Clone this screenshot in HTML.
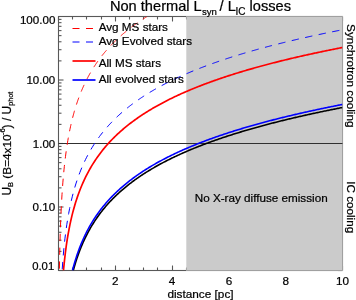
<!DOCTYPE html>
<html><head><meta charset="utf-8"><style>html,body{margin:0;padding:0;background:#fff;width:356px;height:300px;overflow:hidden}svg{display:block;will-change:transform}</style></head>
<body><svg width="356" height="300" viewBox="0 0 356 300">
<rect width="356" height="300" fill="#fff"/>
<g stroke="#585858" stroke-width="1.1" fill="none">
<rect x="58.5" y="16.5" width="284.0" height="254.0"/>
<line x1="58.5" y1="270.5" x2="58.5" y2="265.5"/><line x1="58.5" y1="16.5" x2="58.5" y2="21.5"/><line x1="72.5" y1="270.5" x2="72.5" y2="267.5"/><line x1="72.5" y1="16.5" x2="72.5" y2="19.5"/><line x1="86.5" y1="270.5" x2="86.5" y2="267.5"/><line x1="86.5" y1="16.5" x2="86.5" y2="19.5"/><line x1="101.5" y1="270.5" x2="101.5" y2="267.5"/><line x1="101.5" y1="16.5" x2="101.5" y2="19.5"/><line x1="115.5" y1="270.5" x2="115.5" y2="265.5"/><line x1="115.5" y1="16.5" x2="115.5" y2="21.5"/><line x1="129.5" y1="270.5" x2="129.5" y2="267.5"/><line x1="129.5" y1="16.5" x2="129.5" y2="19.5"/><line x1="143.5" y1="270.5" x2="143.5" y2="267.5"/><line x1="143.5" y1="16.5" x2="143.5" y2="19.5"/><line x1="157.5" y1="270.5" x2="157.5" y2="267.5"/><line x1="157.5" y1="16.5" x2="157.5" y2="19.5"/><line x1="172.5" y1="270.5" x2="172.5" y2="265.5"/><line x1="172.5" y1="16.5" x2="172.5" y2="21.5"/><line x1="186.5" y1="270.5" x2="186.5" y2="267.5"/><line x1="186.5" y1="16.5" x2="186.5" y2="19.5"/><line x1="200.5" y1="270.5" x2="200.5" y2="267.5"/><line x1="200.5" y1="16.5" x2="200.5" y2="19.5"/><line x1="214.5" y1="270.5" x2="214.5" y2="267.5"/><line x1="214.5" y1="16.5" x2="214.5" y2="19.5"/><line x1="228.5" y1="270.5" x2="228.5" y2="265.5"/><line x1="228.5" y1="16.5" x2="228.5" y2="21.5"/><line x1="243.5" y1="270.5" x2="243.5" y2="267.5"/><line x1="243.5" y1="16.5" x2="243.5" y2="19.5"/><line x1="257.5" y1="270.5" x2="257.5" y2="267.5"/><line x1="257.5" y1="16.5" x2="257.5" y2="19.5"/><line x1="271.5" y1="270.5" x2="271.5" y2="267.5"/><line x1="271.5" y1="16.5" x2="271.5" y2="19.5"/><line x1="285.5" y1="270.5" x2="285.5" y2="265.5"/><line x1="285.5" y1="16.5" x2="285.5" y2="21.5"/><line x1="299.5" y1="270.5" x2="299.5" y2="267.5"/><line x1="299.5" y1="16.5" x2="299.5" y2="19.5"/><line x1="314.5" y1="270.5" x2="314.5" y2="267.5"/><line x1="314.5" y1="16.5" x2="314.5" y2="19.5"/><line x1="328.5" y1="270.5" x2="328.5" y2="267.5"/><line x1="328.5" y1="16.5" x2="328.5" y2="19.5"/><line x1="342.5" y1="270.5" x2="342.5" y2="265.5"/><line x1="342.5" y1="16.5" x2="342.5" y2="21.5"/><line x1="58.5" y1="270.50" x2="63.5" y2="270.50"/><line x1="342.5" y1="270.50" x2="337.5" y2="270.50"/><line x1="58.5" y1="251.38" x2="61.5" y2="251.38"/><line x1="342.5" y1="251.38" x2="339.5" y2="251.38"/><line x1="58.5" y1="240.20" x2="61.5" y2="240.20"/><line x1="342.5" y1="240.20" x2="339.5" y2="240.20"/><line x1="58.5" y1="232.27" x2="61.5" y2="232.27"/><line x1="342.5" y1="232.27" x2="339.5" y2="232.27"/><line x1="58.5" y1="226.12" x2="61.5" y2="226.12"/><line x1="342.5" y1="226.12" x2="339.5" y2="226.12"/><line x1="58.5" y1="221.09" x2="61.5" y2="221.09"/><line x1="342.5" y1="221.09" x2="339.5" y2="221.09"/><line x1="58.5" y1="216.84" x2="61.5" y2="216.84"/><line x1="342.5" y1="216.84" x2="339.5" y2="216.84"/><line x1="58.5" y1="213.15" x2="61.5" y2="213.15"/><line x1="342.5" y1="213.15" x2="339.5" y2="213.15"/><line x1="58.5" y1="209.91" x2="61.5" y2="209.91"/><line x1="342.5" y1="209.91" x2="339.5" y2="209.91"/><line x1="58.5" y1="207.00" x2="63.5" y2="207.00"/><line x1="342.5" y1="207.00" x2="337.5" y2="207.00"/><line x1="58.5" y1="187.88" x2="61.5" y2="187.88"/><line x1="342.5" y1="187.88" x2="339.5" y2="187.88"/><line x1="58.5" y1="176.70" x2="61.5" y2="176.70"/><line x1="342.5" y1="176.70" x2="339.5" y2="176.70"/><line x1="58.5" y1="168.77" x2="61.5" y2="168.77"/><line x1="342.5" y1="168.77" x2="339.5" y2="168.77"/><line x1="58.5" y1="162.62" x2="61.5" y2="162.62"/><line x1="342.5" y1="162.62" x2="339.5" y2="162.62"/><line x1="58.5" y1="157.59" x2="61.5" y2="157.59"/><line x1="342.5" y1="157.59" x2="339.5" y2="157.59"/><line x1="58.5" y1="153.34" x2="61.5" y2="153.34"/><line x1="342.5" y1="153.34" x2="339.5" y2="153.34"/><line x1="58.5" y1="149.65" x2="61.5" y2="149.65"/><line x1="342.5" y1="149.65" x2="339.5" y2="149.65"/><line x1="58.5" y1="146.41" x2="61.5" y2="146.41"/><line x1="342.5" y1="146.41" x2="339.5" y2="146.41"/><line x1="58.5" y1="143.50" x2="63.5" y2="143.50"/><line x1="342.5" y1="143.50" x2="337.5" y2="143.50"/><line x1="58.5" y1="124.38" x2="61.5" y2="124.38"/><line x1="342.5" y1="124.38" x2="339.5" y2="124.38"/><line x1="58.5" y1="113.20" x2="61.5" y2="113.20"/><line x1="342.5" y1="113.20" x2="339.5" y2="113.20"/><line x1="58.5" y1="105.27" x2="61.5" y2="105.27"/><line x1="342.5" y1="105.27" x2="339.5" y2="105.27"/><line x1="58.5" y1="99.12" x2="61.5" y2="99.12"/><line x1="342.5" y1="99.12" x2="339.5" y2="99.12"/><line x1="58.5" y1="94.09" x2="61.5" y2="94.09"/><line x1="342.5" y1="94.09" x2="339.5" y2="94.09"/><line x1="58.5" y1="89.84" x2="61.5" y2="89.84"/><line x1="342.5" y1="89.84" x2="339.5" y2="89.84"/><line x1="58.5" y1="86.15" x2="61.5" y2="86.15"/><line x1="342.5" y1="86.15" x2="339.5" y2="86.15"/><line x1="58.5" y1="82.91" x2="61.5" y2="82.91"/><line x1="342.5" y1="82.91" x2="339.5" y2="82.91"/><line x1="58.5" y1="80.00" x2="63.5" y2="80.00"/><line x1="342.5" y1="80.00" x2="337.5" y2="80.00"/><line x1="58.5" y1="60.88" x2="61.5" y2="60.88"/><line x1="342.5" y1="60.88" x2="339.5" y2="60.88"/><line x1="58.5" y1="49.70" x2="61.5" y2="49.70"/><line x1="342.5" y1="49.70" x2="339.5" y2="49.70"/><line x1="58.5" y1="41.77" x2="61.5" y2="41.77"/><line x1="342.5" y1="41.77" x2="339.5" y2="41.77"/><line x1="58.5" y1="35.62" x2="61.5" y2="35.62"/><line x1="342.5" y1="35.62" x2="339.5" y2="35.62"/><line x1="58.5" y1="30.59" x2="61.5" y2="30.59"/><line x1="342.5" y1="30.59" x2="339.5" y2="30.59"/><line x1="58.5" y1="26.34" x2="61.5" y2="26.34"/><line x1="342.5" y1="26.34" x2="339.5" y2="26.34"/><line x1="58.5" y1="22.65" x2="61.5" y2="22.65"/><line x1="342.5" y1="22.65" x2="339.5" y2="22.65"/><line x1="58.5" y1="19.41" x2="61.5" y2="19.41"/><line x1="342.5" y1="19.41" x2="339.5" y2="19.41"/>
</g>
<rect x="186.30" y="16.0" width="156.70" height="255.0" fill="#cbcbcb"/>
<path d="M186.30,16.5H342.5V270.5H186.30" fill="none" stroke="#a0a0a0" stroke-width="1"/>
<line x1="58.5" y1="143.5" x2="342.5" y2="143.5" stroke="#303030" stroke-width="1"/>
<defs><clipPath id="c"><rect x="58.5" y="16.5" width="284.0" height="254.0"/></clipPath></defs>
<g clip-path="url(#c)">
<path d="M59.38,270.50 L59.68,254.77 L59.97,242.55 L60.26,232.55 L60.55,224.08 L60.85,216.75 L61.14,210.27 L61.43,204.48 L61.72,199.24 L62.01,194.45 L62.31,190.05 L62.60,185.97 L62.89,182.17 L63.18,178.62 L63.47,175.28 L63.77,172.14 L64.06,169.16 L64.35,166.33 L64.64,163.65 L64.93,161.09 L65.23,158.64 L65.52,156.29 L65.81,154.04 L66.10,151.88 L66.39,149.80 L66.69,147.80 L66.98,145.87 L67.27,144.00 L67.56,142.19 L67.85,140.44 L68.15,138.75 L68.44,137.10 L68.73,135.50 L69.02,133.95 L69.31,132.44 L69.61,130.97 L69.90,129.54 L70.19,128.15 L70.48,126.78 L70.77,125.46 L71.07,124.16 L71.36,122.89 L71.65,121.65 L71.94,120.44 L72.23,119.26 L72.53,118.10 L72.82,116.96 L73.11,115.85 L73.40,114.75 L73.69,113.68 L73.99,112.63 L74.28,111.60 L74.57,110.59 L74.86,109.60 L75.15,108.62 L75.45,107.66 L75.74,106.72 L76.03,105.80 L76.32,104.88 L76.61,103.99 L76.91,103.11 L77.20,102.24 L77.49,101.38 L77.78,100.54 L78.07,99.71 L78.37,98.90 L78.66,98.09 L78.95,97.30 L79.24,96.52 L79.53,95.74 L79.83,94.98 L80.12,94.23 L80.41,93.49 L80.70,92.76 L80.99,92.04 L81.29,91.33 L81.58,90.63 L81.87,89.94 L82.16,89.25 L82.45,88.57 L82.75,87.91 L83.04,87.25 L83.33,86.59 L83.62,85.95 L83.91,85.31 L84.21,84.68 L84.50,84.06 L84.79,83.44 L85.08,82.83 L85.37,82.23 L85.67,81.63 L85.96,81.04 L86.25,80.46 L86.54,79.88 L86.83,79.31 L87.13,78.75 L87.42,78.19 L87.71,77.63 L88.00,77.08 L88.29,76.54 L88.59,76.00 L88.88,75.47 L89.17,74.94 L89.46,74.42 L89.76,73.90 L90.05,73.39 L90.34,72.88 L90.63,72.38 L90.92,71.88 L91.22,71.38 L91.51,70.89 L91.80,70.41 L92.09,69.93 L92.38,69.45 L92.68,68.97 L92.97,68.51 L93.26,68.04 L93.55,67.58 L93.84,67.12 L94.14,66.67 L94.43,66.22 L94.72,65.77 L95.01,65.33 L95.30,64.89 L95.60,64.45 L95.89,64.02 L96.18,63.59 L96.47,63.17 L96.76,62.74 L97.06,62.32 L97.35,61.91 L97.64,61.49 L97.93,61.08 L98.22,60.68 L98.52,60.27 L98.81,59.87 L99.10,59.47 L99.39,59.08 L99.68,58.69 L99.98,58.30 L100.27,57.91 L100.56,57.53 L100.85,57.14 L101.14,56.76 L101.44,56.39 L101.73,56.01 L102.02,55.64 L102.31,55.27 L102.60,54.91 L102.90,54.54 L103.19,54.18 L103.48,53.82 L103.77,53.47 L104.06,53.11 L104.36,52.76 L104.65,52.41 L104.94,52.06 L105.23,51.72 L105.52,51.37 L105.82,51.03 L106.11,50.69 L106.40,50.35 L106.69,50.02 L106.98,49.68 L107.28,49.35 L107.57,49.02 L107.86,48.70 L108.15,48.37 L108.44,48.05 L108.74,47.73 L109.03,47.41 L109.32,47.09 L109.61,46.77 L109.90,46.46 L110.20,46.15 L110.49,45.84 L110.78,45.53 L111.07,45.22 L111.36,44.91 L111.66,44.61 L111.95,44.31 L112.24,44.01 L112.53,43.71 L112.82,43.41 L113.12,43.12 L113.41,42.82 L113.70,42.53 L113.99,42.24 L114.28,41.95 L114.58,41.66 L114.87,41.37 L115.16,41.09 L115.45,40.81 L115.74,40.52 L116.04,40.24 L116.33,39.96 L116.62,39.69 L116.91,39.41 L117.21,39.13 L117.50,38.86 L117.79,38.59 L118.08,38.32 L118.37,38.05 L118.67,37.78 L118.96,37.51 L119.25,37.25 L119.54,36.98 L119.83,36.72 L120.13,36.46 L120.42,36.20 L120.71,35.94 L121.00,35.68 L121.29,35.42 L121.59,35.17 L121.88,34.91 L122.17,34.66 L122.46,34.40 L122.75,34.15 L123.05,33.90 L123.34,33.65 L123.63,33.41 L123.92,33.16 L124.21,32.91 L124.51,32.67 L124.80,32.43 L125.09,32.18 L125.38,31.94 L125.67,31.70 L125.97,31.46 L126.26,31.22 L126.55,30.99 L126.84,30.75 L127.13,30.52 L127.43,30.28 L127.72,30.05 L128.01,29.82 L128.30,29.59 L128.59,29.35 L128.89,29.13 L129.18,28.90 L129.47,28.67 L129.76,28.44 L130.05,28.22 L130.35,27.99 L130.64,27.77 L130.93,27.55 L131.22,27.32 L131.51,27.10 L131.81,26.88 L132.10,26.66 L132.39,26.45 L132.68,26.23 L132.97,26.01 L133.27,25.80 L133.56,25.58 L133.85,25.37 L134.14,25.15 L134.43,24.94 L134.73,24.73 L135.02,24.52 L135.31,24.31 L135.60,24.10 L135.89,23.89 L136.19,23.68 L136.48,23.48 L136.77,23.27 L137.06,23.06 L137.35,22.86 L137.65,22.66 L137.94,22.45 L138.23,22.25 L138.52,22.05 L138.81,21.85 L139.11,21.65 L139.40,21.45 L139.69,21.25 L139.98,21.05 L140.27,20.85 L140.57,20.66 L140.86,20.46 L141.15,20.27 L141.44,20.07 L141.73,19.88 L142.03,19.68 L142.32,19.49 L142.61,19.30 L142.90,19.11 L143.19,18.92 L143.49,18.73 L143.78,18.54 L144.07,18.35 L144.36,18.16 L144.65,17.98 L144.95,17.79 L145.24,17.60 L145.53,17.42 L145.82,17.23 L146.12,17.05 L146.41,16.87 L146.70,16.68 L146.99,16.50" fill="none" stroke="#ff0000" stroke-width="1.0" stroke-dasharray="7.3 6.5" stroke-dashoffset="12"/><path d="M62.11,270.50 L63.05,257.81 L63.98,247.50 L64.92,238.82 L65.85,231.32 L66.79,224.72 L67.72,218.82 L68.66,213.50 L69.59,208.64 L70.52,204.18 L71.46,200.05 L72.39,196.21 L73.33,192.62 L74.26,189.24 L75.20,186.07 L76.13,183.06 L77.07,180.21 L78.00,177.51 L78.94,174.92 L79.87,172.46 L80.81,170.10 L81.74,167.83 L82.67,165.66 L83.61,163.57 L84.54,161.55 L85.48,159.60 L86.41,157.73 L87.35,155.91 L88.28,154.15 L89.22,152.45 L90.15,150.79 L91.09,149.19 L92.02,147.63 L92.96,146.11 L93.89,144.64 L94.82,143.20 L95.76,141.80 L96.69,140.43 L97.63,139.10 L98.56,137.80 L99.50,136.52 L100.43,135.28 L101.37,134.06 L102.30,132.87 L103.24,131.71 L104.17,130.57 L105.11,129.45 L106.04,128.36 L106.97,127.28 L107.91,126.23 L108.84,125.20 L109.78,124.18 L110.71,123.19 L111.65,122.21 L112.58,121.25 L113.52,120.30 L114.45,119.37 L115.39,118.46 L116.32,117.56 L117.26,116.67 L118.19,115.80 L119.12,114.95 L120.06,114.10 L120.99,113.27 L121.93,112.45 L122.86,111.65 L123.80,110.85 L124.73,110.07 L125.67,109.29 L126.60,108.53 L127.54,107.78 L128.47,107.04 L129.41,106.31 L130.34,105.58 L131.27,104.87 L132.21,104.17 L133.14,103.47 L134.08,102.79 L135.01,102.11 L135.95,101.44 L136.88,100.78 L137.82,100.12 L138.75,99.48 L139.69,98.84 L140.62,98.21 L141.56,97.58 L142.49,96.97 L143.42,96.36 L144.36,95.75 L145.29,95.16 L146.23,94.56 L147.16,93.98 L148.10,93.40 L149.03,92.83 L149.97,92.26 L150.90,91.70 L151.84,91.15 L152.77,90.60 L153.71,90.05 L154.64,89.51 L155.58,88.98 L156.51,88.45 L157.44,87.93 L158.38,87.41 L159.31,86.90 L160.25,86.39 L161.18,85.88 L162.12,85.38 L163.05,84.89 L163.99,84.40 L164.92,83.91 L165.86,83.43 L166.79,82.95 L167.73,82.48 L168.66,82.01 L169.59,81.54 L170.53,81.08 L171.46,80.62 L172.40,80.17 L173.33,79.72 L174.27,79.27 L175.20,78.82 L176.14,78.38 L177.07,77.95 L178.01,77.52 L178.94,77.09 L179.88,76.66 L180.81,76.24 L181.74,75.82 L182.68,75.40 L183.61,74.99 L184.55,74.58 L185.48,74.17 L186.42,73.76 L187.35,73.36 L188.29,72.96 L189.22,72.57 L190.16,72.17 L191.09,71.78 L192.03,71.40 L192.96,71.01 L193.89,70.63 L194.83,70.25 L195.76,69.87 L196.70,69.50 L197.63,69.13 L198.57,68.76 L199.50,68.39 L200.44,68.03 L201.37,67.67 L202.31,67.31 L203.24,66.95 L204.18,66.59 L205.11,66.24 L206.04,65.89 L206.98,65.54 L207.91,65.20 L208.85,64.85 L209.78,64.51 L210.72,64.17 L211.65,63.83 L212.59,63.50 L213.52,63.16 L214.46,62.83 L215.39,62.50 L216.33,62.18 L217.26,61.85 L218.19,61.53 L219.13,61.20 L220.06,60.88 L221.00,60.57 L221.93,60.25 L222.87,59.93 L223.80,59.62 L224.74,59.31 L225.67,59.00 L226.61,58.69 L227.54,58.39 L228.48,58.08 L229.41,57.78 L230.35,57.48 L231.28,57.18 L232.21,56.88 L233.15,56.59 L234.08,56.29 L235.02,56.00 L235.95,55.71 L236.89,55.42 L237.82,55.13 L238.76,54.85 L239.69,54.56 L240.63,54.28 L241.56,53.99 L242.50,53.71 L243.43,53.43 L244.36,53.16 L245.30,52.88 L246.23,52.60 L247.17,52.33 L248.10,52.06 L249.04,51.79 L249.97,51.52 L250.91,51.25 L251.84,50.98 L252.78,50.71 L253.71,50.45 L254.65,50.19 L255.58,49.92 L256.51,49.66 L257.45,49.40 L258.38,49.14 L259.32,48.89 L260.25,48.63 L261.19,48.38 L262.12,48.12 L263.06,47.87 L263.99,47.62 L264.93,47.37 L265.86,47.12 L266.80,46.87 L267.73,46.62 L268.66,46.38 L269.60,46.13 L270.53,45.89 L271.47,45.65 L272.40,45.41 L273.34,45.17 L274.27,44.93 L275.21,44.69 L276.14,44.45 L277.08,44.21 L278.01,43.98 L278.95,43.74 L279.88,43.51 L280.81,43.28 L281.75,43.05 L282.68,42.82 L283.62,42.59 L284.55,42.36 L285.49,42.13 L286.42,41.90 L287.36,41.68 L288.29,41.45 L289.23,41.23 L290.16,41.01 L291.10,40.79 L292.03,40.56 L292.96,40.34 L293.90,40.12 L294.83,39.91 L295.77,39.69 L296.70,39.47 L297.64,39.26 L298.57,39.04 L299.51,38.83 L300.44,38.61 L301.38,38.40 L302.31,38.19 L303.25,37.98 L304.18,37.77 L305.12,37.56 L306.05,37.35 L306.98,37.14 L307.92,36.93 L308.85,36.73 L309.79,36.52 L310.72,36.32 L311.66,36.11 L312.59,35.91 L313.53,35.71 L314.46,35.51 L315.40,35.30 L316.33,35.10 L317.27,34.90 L318.20,34.71 L319.13,34.51 L320.07,34.31 L321.00,34.11 L321.94,33.92 L322.87,33.72 L323.81,33.53 L324.74,33.33 L325.68,33.14 L326.61,32.95 L327.55,32.76 L328.48,32.56 L329.42,32.37 L330.35,32.18 L331.28,31.99 L332.22,31.81 L333.15,31.62 L334.09,31.43 L335.02,31.24 L335.96,31.06 L336.89,30.87 L337.83,30.69 L338.76,30.50 L339.70,30.32 L340.63,30.14 L341.57,29.95 L342.50,29.77" fill="none" stroke="#0000ff" stroke-width="1.0" stroke-dasharray="7.3 6.5" stroke-dashoffset="-15.1"/><path d="M63.48,270.50 L64.41,261.06 L65.34,253.00 L66.27,245.97 L67.20,239.74 L68.13,234.13 L69.06,229.05 L69.99,224.40 L70.92,220.10 L71.85,216.12 L72.78,212.41 L73.71,208.93 L74.64,205.65 L75.57,202.57 L76.50,199.64 L77.43,196.86 L78.36,194.22 L79.29,191.69 L80.22,189.28 L81.15,186.97 L82.08,184.75 L83.01,182.61 L83.94,180.56 L84.87,178.58 L85.80,176.67 L86.73,174.82 L87.66,173.03 L88.59,171.30 L89.52,169.62 L90.45,167.99 L91.38,166.41 L92.31,164.87 L93.24,163.38 L94.17,161.92 L95.10,160.50 L96.03,159.12 L96.96,157.77 L97.89,156.45 L98.82,155.16 L99.75,153.90 L100.68,152.67 L101.61,151.47 L102.54,150.29 L103.47,149.14 L104.40,148.01 L105.33,146.91 L106.26,145.82 L107.19,144.76 L108.12,143.71 L109.05,142.69 L109.98,141.68 L110.91,140.70 L111.84,139.73 L112.77,138.77 L113.70,137.84 L114.64,136.91 L115.57,136.01 L116.50,135.12 L117.43,134.24 L118.36,133.37 L119.29,132.52 L120.22,131.69 L121.15,130.86 L122.08,130.05 L123.01,129.25 L123.94,128.46 L124.87,127.68 L125.80,126.91 L126.73,126.16 L127.66,125.41 L128.59,124.67 L129.52,123.94 L130.45,123.23 L131.38,122.52 L132.31,121.82 L133.24,121.13 L134.17,120.45 L135.10,119.77 L136.03,119.11 L136.96,118.45 L137.89,117.80 L138.82,117.16 L139.75,116.52 L140.68,115.89 L141.61,115.27 L142.54,114.66 L143.47,114.05 L144.40,113.45 L145.33,112.86 L146.26,112.27 L147.19,111.69 L148.12,111.11 L149.05,110.54 L149.98,109.98 L150.91,109.42 L151.84,108.87 L152.77,108.32 L153.70,107.78 L154.63,107.25 L155.56,106.71 L156.49,106.19 L157.42,105.67 L158.35,105.15 L159.28,104.64 L160.21,104.13 L161.14,103.63 L162.07,103.13 L163.00,102.64 L163.93,102.15 L164.86,101.67 L165.79,101.19 L166.72,100.71 L167.65,100.24 L168.58,99.77 L169.51,99.31 L170.44,98.85 L171.37,98.39 L172.30,97.94 L173.23,97.49 L174.16,97.04 L175.09,96.60 L176.02,96.16 L176.95,95.73 L177.88,95.30 L178.81,94.87 L179.74,94.44 L180.67,94.02 L181.60,93.60 L182.53,93.19 L183.46,92.78 L184.39,92.37 L185.32,91.96 L186.25,91.56 L187.18,91.16 L188.11,90.76 L189.04,90.37 L189.97,89.98 L190.90,89.59 L191.83,89.20 L192.76,88.82 L193.69,88.44 L194.62,88.06 L195.55,87.68 L196.48,87.31 L197.41,86.94 L198.34,86.57 L199.27,86.21 L200.20,85.84 L201.13,85.48 L202.06,85.12 L202.99,84.77 L203.92,84.41 L204.85,84.06 L205.78,83.71 L206.71,83.36 L207.64,83.02 L208.57,82.68 L209.50,82.34 L210.43,82.00 L211.36,81.66 L212.29,81.33 L213.22,80.99 L214.15,80.66 L215.08,80.33 L216.01,80.01 L216.94,79.68 L217.87,79.36 L218.80,79.04 L219.73,78.72 L220.66,78.40 L221.59,78.09 L222.52,77.77 L223.45,77.46 L224.38,77.15 L225.31,76.84 L226.24,76.54 L227.17,76.23 L228.10,75.93 L229.03,75.63 L229.96,75.33 L230.89,75.03 L231.82,74.73 L232.75,74.44 L233.68,74.14 L234.61,73.85 L235.54,73.56 L236.47,73.27 L237.40,72.98 L238.33,72.70 L239.26,72.41 L240.19,72.13 L241.12,71.85 L242.05,71.57 L242.98,71.29 L243.91,71.01 L244.84,70.74 L245.77,70.46 L246.70,70.19 L247.63,69.92 L248.56,69.65 L249.49,69.38 L250.42,69.11 L251.35,68.84 L252.28,68.58 L253.21,68.31 L254.14,68.05 L255.07,67.79 L256.00,67.53 L256.93,67.27 L257.86,67.01 L258.79,66.75 L259.72,66.50 L260.65,66.25 L261.58,65.99 L262.51,65.74 L263.44,65.49 L264.37,65.24 L265.30,64.99 L266.23,64.74 L267.17,64.50 L268.10,64.25 L269.03,64.01 L269.96,63.76 L270.89,63.52 L271.82,63.28 L272.75,63.04 L273.68,62.80 L274.61,62.56 L275.54,62.33 L276.47,62.09 L277.40,61.86 L278.33,61.62 L279.26,61.39 L280.19,61.16 L281.12,60.93 L282.05,60.70 L282.98,60.47 L283.91,60.24 L284.84,60.01 L285.77,59.79 L286.70,59.56 L287.63,59.34 L288.56,59.11 L289.49,58.89 L290.42,58.67 L291.35,58.45 L292.28,58.23 L293.21,58.01 L294.14,57.79 L295.07,57.57 L296.00,57.36 L296.93,57.14 L297.86,56.93 L298.79,56.71 L299.72,56.50 L300.65,56.29 L301.58,56.08 L302.51,55.87 L303.44,55.66 L304.37,55.45 L305.30,55.24 L306.23,55.03 L307.16,54.83 L308.09,54.62 L309.02,54.41 L309.95,54.21 L310.88,54.01 L311.81,53.80 L312.74,53.60 L313.67,53.40 L314.60,53.20 L315.53,53.00 L316.46,52.80 L317.39,52.60 L318.32,52.40 L319.25,52.21 L320.18,52.01 L321.11,51.81 L322.04,51.62 L322.97,51.43 L323.90,51.23 L324.83,51.04 L325.76,50.85 L326.69,50.65 L327.62,50.46 L328.55,50.27 L329.48,50.08 L330.41,49.89 L331.34,49.71 L332.27,49.52 L333.20,49.33 L334.13,49.15 L335.06,48.96 L335.99,48.77 L336.92,48.59 L337.85,48.41 L338.78,48.22 L339.71,48.04 L340.64,47.86 L341.57,47.68 L342.50,47.50" fill="none" stroke="#ff0000" stroke-width="1.7"/><path d="M73.28,270.50 L74.18,267.25 L75.08,264.18 L75.98,261.27 L76.87,258.51 L77.77,255.88 L78.67,253.37 L79.57,250.97 L80.46,248.67 L81.36,246.46 L82.26,244.34 L83.16,242.29 L84.05,240.32 L84.95,238.42 L85.85,236.58 L86.75,234.80 L87.64,233.07 L88.54,231.40 L89.44,229.77 L90.33,228.20 L91.23,226.66 L92.13,225.17 L93.03,223.72 L93.92,222.30 L94.82,220.92 L95.72,219.58 L96.62,218.26 L97.51,216.98 L98.41,215.73 L99.31,214.50 L100.21,213.30 L101.10,212.13 L102.00,210.98 L102.90,209.85 L103.80,208.75 L104.69,207.66 L105.59,206.60 L106.49,205.56 L107.39,204.54 L108.28,203.54 L109.18,202.55 L110.08,201.58 L110.97,200.63 L111.87,199.70 L112.77,198.78 L113.67,197.87 L114.56,196.98 L115.46,196.11 L116.36,195.24 L117.26,194.40 L118.15,193.56 L119.05,192.74 L119.95,191.92 L120.85,191.12 L121.74,190.34 L122.64,189.56 L123.54,188.79 L124.44,188.04 L125.33,187.29 L126.23,186.56 L127.13,185.83 L128.02,185.11 L128.92,184.41 L129.82,183.71 L130.72,183.02 L131.61,182.34 L132.51,181.66 L133.41,181.00 L134.31,180.34 L135.20,179.69 L136.10,179.05 L137.00,178.42 L137.90,177.79 L138.79,177.17 L139.69,176.56 L140.59,175.95 L141.49,175.35 L142.38,174.76 L143.28,174.17 L144.18,173.59 L145.08,173.02 L145.97,172.45 L146.87,171.88 L147.77,171.33 L148.66,170.78 L149.56,170.23 L150.46,169.69 L151.36,169.15 L152.25,168.62 L153.15,168.10 L154.05,167.58 L154.95,167.06 L155.84,166.55 L156.74,166.04 L157.64,165.54 L158.54,165.05 L159.43,164.55 L160.33,164.06 L161.23,163.58 L162.13,163.10 L163.02,162.63 L163.92,162.15 L164.82,161.69 L165.72,161.22 L166.61,160.76 L167.51,160.31 L168.41,159.85 L169.30,159.41 L170.20,158.96 L171.10,158.52 L172.00,158.08 L172.89,157.65 L173.79,157.22 L174.69,156.79 L175.59,156.36 L176.48,155.94 L177.38,155.53 L178.28,155.11 L179.18,154.70 L180.07,154.29 L180.97,153.89 L181.87,153.48 L182.77,153.08 L183.66,152.69 L184.56,152.29 L185.46,151.90 L186.35,151.51 L187.25,151.13 L188.15,150.74 L189.05,150.36 L189.94,149.98 L190.84,149.61 L191.74,149.24 L192.64,148.87 L193.53,148.50 L194.43,148.13 L195.33,147.77 L196.23,147.41 L197.12,147.05 L198.02,146.70 L198.92,146.34 L199.82,145.99 L200.71,145.64 L201.61,145.29 L202.51,144.95 L203.41,144.61 L204.30,144.27 L205.20,143.93 L206.10,143.59 L206.99,143.26 L207.89,142.93 L208.79,142.60 L209.69,142.27 L210.58,141.94 L211.48,141.62 L212.38,141.29 L213.28,140.97 L214.17,140.65 L215.07,140.34 L215.97,140.02 L216.87,139.71 L217.76,139.40 L218.66,139.09 L219.56,138.78 L220.46,138.47 L221.35,138.17 L222.25,137.86 L223.15,137.56 L224.05,137.26 L224.94,136.96 L225.84,136.67 L226.74,136.37 L227.63,136.08 L228.53,135.79 L229.43,135.50 L230.33,135.21 L231.22,134.92 L232.12,134.64 L233.02,134.35 L233.92,134.07 L234.81,133.79 L235.71,133.51 L236.61,133.23 L237.51,132.95 L238.40,132.68 L239.30,132.40 L240.20,132.13 L241.10,131.86 L241.99,131.59 L242.89,131.32 L243.79,131.05 L244.69,130.78 L245.58,130.52 L246.48,130.25 L247.38,129.99 L248.27,129.73 L249.17,129.47 L250.07,129.21 L250.97,128.95 L251.86,128.70 L252.76,128.44 L253.66,128.19 L254.56,127.93 L255.45,127.68 L256.35,127.43 L257.25,127.18 L258.15,126.93 L259.04,126.68 L259.94,126.44 L260.84,126.19 L261.74,125.95 L262.63,125.71 L263.53,125.46 L264.43,125.22 L265.32,124.98 L266.22,124.74 L267.12,124.51 L268.02,124.27 L268.91,124.03 L269.81,123.80 L270.71,123.57 L271.61,123.33 L272.50,123.10 L273.40,122.87 L274.30,122.64 L275.20,122.41 L276.09,122.18 L276.99,121.96 L277.89,121.73 L278.79,121.51 L279.68,121.28 L280.58,121.06 L281.48,120.84 L282.38,120.61 L283.27,120.39 L284.17,120.17 L285.07,119.96 L285.96,119.74 L286.86,119.52 L287.76,119.30 L288.66,119.09 L289.55,118.87 L290.45,118.66 L291.35,118.45 L292.25,118.23 L293.14,118.02 L294.04,117.81 L294.94,117.60 L295.84,117.39 L296.73,117.19 L297.63,116.98 L298.53,116.77 L299.43,116.57 L300.32,116.36 L301.22,116.16 L302.12,115.95 L303.02,115.75 L303.91,115.55 L304.81,115.35 L305.71,115.15 L306.60,114.95 L307.50,114.75 L308.40,114.55 L309.30,114.35 L310.19,114.15 L311.09,113.96 L311.99,113.76 L312.89,113.57 L313.78,113.37 L314.68,113.18 L315.58,112.99 L316.48,112.79 L317.37,112.60 L318.27,112.41 L319.17,112.22 L320.07,112.03 L320.96,111.84 L321.86,111.66 L322.76,111.47 L323.65,111.28 L324.55,111.09 L325.45,110.91 L326.35,110.72 L327.24,110.54 L328.14,110.36 L329.04,110.17 L329.94,109.99 L330.83,109.81 L331.73,109.63 L332.63,109.45 L333.53,109.26 L334.42,109.09 L335.32,108.91 L336.22,108.73 L337.12,108.55 L338.01,108.37 L338.91,108.20 L339.81,108.02 L340.71,107.84 L341.60,107.67 L342.50,107.49" fill="none" stroke="#000000" stroke-width="1.6"/><path d="M72.49,270.50 L73.39,267.06 L74.29,263.82 L75.19,260.77 L76.09,257.87 L76.99,255.12 L77.89,252.50 L78.79,250.00 L79.69,247.60 L80.59,245.31 L81.49,243.11 L82.39,240.99 L83.29,238.95 L84.19,236.98 L85.09,235.08 L85.99,233.25 L86.89,231.47 L87.79,229.75 L88.69,228.08 L89.59,226.46 L90.49,224.88 L91.39,223.35 L92.29,221.87 L93.19,220.42 L94.09,219.00 L94.99,217.63 L95.89,216.28 L96.79,214.97 L97.69,213.69 L98.59,212.44 L99.49,211.21 L100.39,210.01 L101.29,208.84 L102.19,207.69 L103.09,206.57 L103.99,205.47 L104.89,204.39 L105.79,203.33 L106.69,202.29 L107.59,201.27 L108.49,200.26 L109.39,199.28 L110.29,198.31 L111.19,197.36 L112.09,196.43 L112.99,195.51 L113.89,194.61 L114.79,193.72 L115.69,192.84 L116.59,191.98 L117.49,191.13 L118.39,190.30 L119.29,189.48 L120.19,188.67 L121.09,187.87 L121.99,187.08 L122.89,186.30 L123.79,185.54 L124.69,184.78 L125.59,184.04 L126.49,183.30 L127.39,182.58 L128.29,181.86 L129.19,181.15 L130.09,180.46 L130.99,179.77 L131.89,179.09 L132.79,178.41 L133.69,177.75 L134.59,177.09 L135.49,176.45 L136.39,175.80 L137.29,175.17 L138.19,174.54 L139.09,173.93 L139.99,173.31 L140.89,172.71 L141.79,172.11 L142.69,171.51 L143.59,170.93 L144.49,170.35 L145.39,169.77 L146.29,169.21 L147.19,168.64 L148.09,168.09 L148.99,167.53 L149.89,166.99 L150.79,166.45 L151.69,165.91 L152.59,165.38 L153.49,164.86 L154.39,164.34 L155.29,163.82 L156.19,163.31 L157.09,162.81 L157.99,162.31 L158.89,161.81 L159.79,161.32 L160.69,160.83 L161.59,160.34 L162.49,159.87 L163.39,159.39 L164.29,158.92 L165.19,158.45 L166.09,157.99 L166.99,157.53 L167.89,157.07 L168.79,156.62 L169.69,156.17 L170.59,155.73 L171.49,155.29 L172.39,154.85 L173.29,154.42 L174.19,153.98 L175.09,153.56 L175.99,153.13 L176.89,152.71 L177.79,152.29 L178.69,151.88 L179.59,151.47 L180.50,151.06 L181.40,150.65 L182.30,150.25 L183.20,149.85 L184.10,149.46 L185.00,149.06 L185.90,148.67 L186.80,148.28 L187.70,147.90 L188.60,147.51 L189.50,147.13 L190.40,146.76 L191.30,146.38 L192.20,146.01 L193.10,145.64 L194.00,145.27 L194.90,144.91 L195.80,144.54 L196.70,144.18 L197.60,143.82 L198.50,143.47 L199.40,143.12 L200.30,142.76 L201.20,142.42 L202.10,142.07 L203.00,141.72 L203.90,141.38 L204.80,141.04 L205.70,140.70 L206.60,140.37 L207.50,140.03 L208.40,139.70 L209.30,139.37 L210.20,139.04 L211.10,138.72 L212.00,138.39 L212.90,138.07 L213.80,137.75 L214.70,137.43 L215.60,137.11 L216.50,136.80 L217.40,136.48 L218.30,136.17 L219.20,135.86 L220.10,135.55 L221.00,135.25 L221.90,134.94 L222.80,134.64 L223.70,134.34 L224.60,134.04 L225.50,133.74 L226.40,133.45 L227.30,133.15 L228.20,132.86 L229.10,132.57 L230.00,132.28 L230.90,131.99 L231.80,131.70 L232.70,131.41 L233.60,131.13 L234.50,130.85 L235.40,130.57 L236.30,130.29 L237.20,130.01 L238.10,129.73 L239.00,129.45 L239.90,129.18 L240.80,128.91 L241.70,128.63 L242.60,128.36 L243.50,128.10 L244.40,127.83 L245.30,127.56 L246.20,127.30 L247.10,127.03 L248.00,126.77 L248.90,126.51 L249.80,126.25 L250.70,125.99 L251.60,125.73 L252.50,125.48 L253.40,125.22 L254.30,124.97 L255.20,124.71 L256.10,124.46 L257.00,124.21 L257.90,123.96 L258.80,123.71 L259.70,123.47 L260.60,123.22 L261.50,122.97 L262.40,122.73 L263.30,122.49 L264.20,122.25 L265.10,122.00 L266.00,121.76 L266.90,121.53 L267.80,121.29 L268.70,121.05 L269.60,120.82 L270.50,120.58 L271.40,120.35 L272.30,120.12 L273.20,119.88 L274.10,119.65 L275.00,119.42 L275.90,119.19 L276.80,118.97 L277.70,118.74 L278.60,118.51 L279.50,118.29 L280.40,118.06 L281.30,117.84 L282.20,117.62 L283.10,117.40 L284.00,117.18 L284.90,116.96 L285.80,116.74 L286.70,116.52 L287.60,116.30 L288.50,116.09 L289.40,115.87 L290.30,115.66 L291.20,115.44 L292.10,115.23 L293.00,115.02 L293.90,114.81 L294.80,114.60 L295.70,114.39 L296.60,114.18 L297.50,113.97 L298.40,113.76 L299.30,113.56 L300.20,113.35 L301.10,113.14 L302.00,112.94 L302.90,112.74 L303.80,112.53 L304.70,112.33 L305.60,112.13 L306.50,111.93 L307.40,111.73 L308.30,111.53 L309.20,111.33 L310.10,111.14 L311.00,110.94 L311.90,110.74 L312.80,110.55 L313.70,110.35 L314.60,110.16 L315.50,109.96 L316.40,109.77 L317.30,109.58 L318.20,109.39 L319.10,109.20 L320.00,109.01 L320.90,108.82 L321.80,108.63 L322.70,108.44 L323.60,108.25 L324.50,108.07 L325.40,107.88 L326.30,107.69 L327.20,107.51 L328.10,107.32 L329.00,107.14 L329.90,106.96 L330.80,106.77 L331.70,106.59 L332.60,106.41 L333.50,106.23 L334.40,106.05 L335.30,105.87 L336.20,105.69 L337.10,105.51 L338.00,105.33 L338.90,105.16 L339.80,104.98 L340.70,104.80 L341.60,104.63 L342.50,104.45" fill="none" stroke="#0000ff" stroke-width="1.6"/>
</g>
<g font-family="Liberation Sans, sans-serif" font-size="11.7" fill="#000" stroke="#000" stroke-width="0.22">
<text transform="translate(109.93,10.9) scale(1.03,1)" font-size="14.2">Non thermal L</text>
<text x="202" y="14.6" font-size="9.6">syn</text>
<text transform="translate(219.5,10.9) scale(1.03,1)" font-size="14.2">/</text>
<text transform="translate(227.8,10.9) scale(1.03,1)" font-size="14.2">L</text>
<text x="235.6" y="14.8" font-size="10">IC</text>
<text transform="translate(249.6,10.9) scale(1.03,1)" font-size="14.2">losses</text>
<text x="55.4" y="24" font-size="11.6" text-anchor="end">100.00</text>
<text x="55.2" y="84.2" font-size="11.5" text-anchor="end">10.00</text>
<text x="55.2" y="147.5" font-size="11.5" text-anchor="end">1.00</text>
<text x="55.2" y="210.7" font-size="11.6" text-anchor="end">0.10</text>
<text x="54.2" y="270.2" font-size="11.3" text-anchor="end">0.01</text>
<text x="115.3" y="285.2" text-anchor="middle">2</text>
<text x="172.1" y="285.2" text-anchor="middle">4</text>
<text x="228.9" y="285.2" text-anchor="middle">6</text>
<text x="285.7" y="285.2" text-anchor="middle">8</text>
<text x="342.5" y="285.2" text-anchor="middle">10</text>
<text x="200.5" y="297.5" text-anchor="middle" font-size="11.8">distance [pc]</text>
<text x="194.7" y="201.9">No X-ray diffuse emission</text>
<text transform="translate(346.5,24.1) rotate(90)">Synchrotron cooling</text>
<text transform="translate(346.5,181.2) rotate(90)">IC cooling</text>
<text transform="translate(10.6,195.6) rotate(-90)" font-size="12">U<tspan font-size="7.5" dy="2.2">B</tspan><tspan dy="-2.2" font-size="11.8"> (B=4x10</tspan><tspan font-size="7.5" dy="-5.9" dx="-0.7">-6</tspan><tspan dy="5.9">) / U</tspan><tspan font-size="7.2" dy="2.2">phot</tspan></text>
<text x="98.7" y="30.7">Avg MS stars</text>
<text x="98.7" y="44.9">Avg Evolved stars</text>
<text x="98.7" y="67">All MS stars</text>
<text x="98.7" y="82.8">All evolved stars</text>
</g>
<line x1="72.5" y1="28.5" x2="94" y2="28.5" stroke="#ff0000" stroke-width="1" stroke-dasharray="7 6.5"/>
<line x1="72.5" y1="42" x2="94" y2="42" stroke="#0000ff" stroke-width="1" stroke-dasharray="7 6.5"/>
<line x1="72.5" y1="61" x2="95.5" y2="61" stroke="#ff0000" stroke-width="1.7"/>
<line x1="72.5" y1="80" x2="95.5" y2="80" stroke="#0000ff" stroke-width="1.7"/>
</svg></body></html>
